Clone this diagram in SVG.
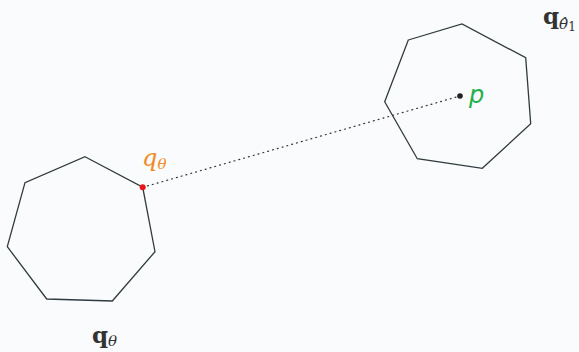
<svg xmlns="http://www.w3.org/2000/svg" width="579" height="352" viewBox="0 0 579 352">
  <style>
    .poly { fill: none; stroke: #2f3b3f; stroke-width: 1.3; stroke-linejoin: miter; }
    .link { stroke: #333; stroke-width: 1.2; stroke-dasharray: 1 4; stroke-linecap: round; }
    .lbl { font-family: "DejaVu Serif", "Liberation Serif", serif; fill: #333; }
    .it { font-style: italic; }
  </style>
  <rect width="579" height="352" fill="#fafbfc"/>

  <g id="connectors">
    <line class="link" x1="142.7" y1="187.3" x2="460" y2="96"/>
  </g>

  <g id="shape-left">
    <polygon class="poly" points="85,156.7 142.7,187.3 155,251.7 112.3,301 46.7,299 7.3,246.7 25,182.7"/>
    <text class="lbl" x="92" y="343" font-size="23" font-weight="bold">q<tspan class="it" font-weight="normal" font-size="15" dy="3">θ</tspan></text>
  </g>

  <g id="shape-right">
    <polygon class="poly" points="408.3,40 462,24 525.7,57.7 530.7,123.7 482.3,168.3 417.3,158.7 384.7,101.7"/>
    <text class="lbl" x="543" y="24" font-size="23" font-weight="bold">q<tspan class="it" font-weight="normal" font-size="15" dy="5">θ̂</tspan><tspan font-weight="normal" font-size="12" dy="2">1</tspan></text>
  </g>

  <g id="point-q">
    <circle cx="142.7" cy="187.3" r="3" fill="#e8141c"/>
    <text x="142" y="166" font-family="DejaVu Serif, serif" font-style="italic" font-size="24" fill="#f08a24">q<tspan font-size="15" dy="3">θ</tspan></text>
  </g>

  <g id="point-p">
    <circle cx="460" cy="96" r="2.8" fill="#222"/>
    <text x="469" y="103" font-family="DejaVu Sans, sans-serif" font-style="italic" font-size="24" fill="#22b04a">p</text>
  </g>
</svg>
